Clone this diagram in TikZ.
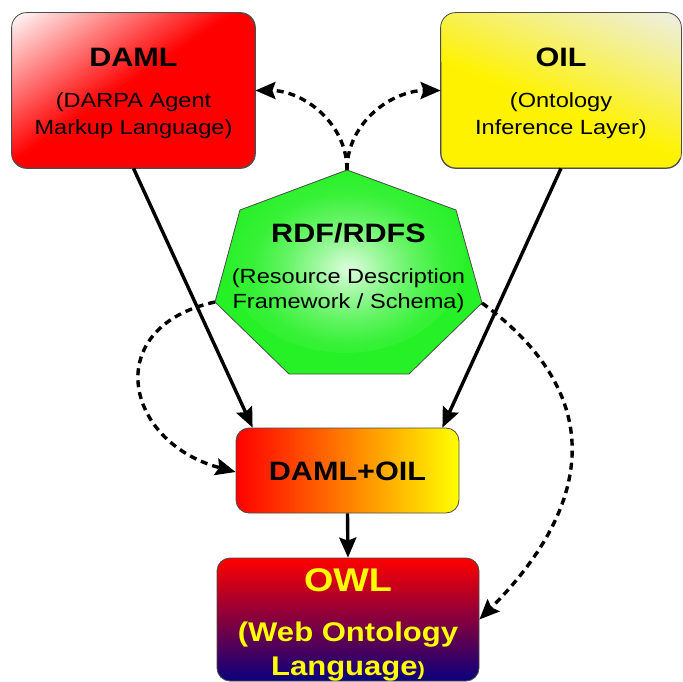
\documentclass[tikz,border=0pt]{standalone}
\usepackage{fontspec}
\setmainfont{Liberation Sans}[FakeStretch=1.15]
\usetikzlibrary{arrows.meta,calc}
\definecolor{hgreen}{RGB}{38,240,38}
\definecolor{navy}{RGB}{10,0,125}
\definecolor{owlyellow}{RGB}{255,255,0}
\definecolor{oilglow}{RGB}{234,238,228}
\pgfdeclareradialshading{rdfglow}{\pgfpointorigin}{color(0bp)=(white!85!hgreen); color(6bp)=(white!55!hgreen); color(12bp)=(white!28!hgreen); color(18bp)=(white!8!hgreen); color(25bp)=(hgreen); color(50bp)=(hgreen)}
\begin{document}
\begin{tikzpicture}[x=1pt,y=1pt,
  boxline/.style={draw=black!70, line width=0.8pt, rounded corners=15pt},
  box/.style={boxline, inner sep=0pt},
  head/.style={font=\fontsize{26.6}{30}\selectfont\bfseries, anchor=base, inner sep=0pt},
  sub/.style={font=\fontsize{20.5}{24}\selectfont, anchor=base, inner sep=0pt},
  owlhead/.style={font=\fontsize{32.8}{36}\selectfont\bfseries, text=owlyellow, anchor=base, inner sep=0pt},
  owlsub/.style={font=\fontsize{27}{30}\selectfont\bfseries, text=owlyellow, anchor=base, inner sep=0pt},
  solidarrow/.style={line width=3.4pt, -{Stealth[length=20pt,width=17pt,inset=3pt]}},
  dasharrow/.style={solidarrow, dash pattern=on 7pt off 5pt}
]
\useasboundingbox (0,0) rectangle (683,-682);

% boxes
\node[box, minimum width=243pt, minimum height=155pt, fill=red] (daml) at (133.5,-90.5) {};
\begin{scope}
  \clip[rounded corners=15pt] (daml.north west) rectangle (daml.south east);
  \begin{scope}[shift={(daml.north west)}, rotate=-56]
    \foreach \i in {0,...,39}{%
      \pgfmathsetmacro{\p}{100*(\i+0.5)/40}%
      \fill[red!\p!white] ({\i*125/40},-400) rectangle ({(\i+1)*125/40+0.6},400);}
  \end{scope}
\end{scope}
\path[boxline] (daml.north west) rectangle (daml.south east);

\node[box, minimum width=240pt, minimum height=155pt, fill=yellow] (oil) at (561,-90.5) {};
\begin{scope}
  \clip[rounded corners=15pt] (oil.north west) rectangle (oil.south east);
  \begin{scope}[shift={(oil.north east)}, rotate=-112]
    \foreach \i in {0,...,39}{%
      \pgfmathsetmacro{\p}{100*(\i+0.5)/40}%
      \fill[yellow!\p!oilglow] ({\i*135/40},-400) rectangle ({(\i+1)*135/40+0.6},400);}
  \end{scope}
\end{scope}
\path[boxline] (oil.north west) rectangle (oil.south east);

\node[box, rounded corners=13pt, minimum width=223pt, minimum height=85pt,
  left color=red, right color=yellow] (dlo) at (347.5,-470.5) {};
\node[box, rounded corners=13pt, minimum width=262pt, minimum height=123pt,
  top color=red, bottom color=navy] (owl) at (348,-619.5) {};

% heptagon
\coordinate (h1) at (347,-170);
\coordinate (h2) at (456,-210);
\coordinate (h3) at (482,-303);
\coordinate (h4) at (409,-374);
\coordinate (h5) at (289,-374);
\coordinate (h6) at (215,-302);
\coordinate (h7) at (240,-210);
\path[draw=black!70, line width=0.8pt, fill=hgreen,
  path picture={\shade[shading=rdfglow]
    (345,-258) ellipse (120pt and 95pt);}]
  (h1) -- (h2) -- (h3) -- (h4) -- (h5) -- (h6) -- (h7) -- cycle;

% connectors
\draw[solidarrow] (daml.south) -- ($(dlo.north west)+(17,0)$);
\draw[solidarrow] (oil.south) -- ($(dlo.north east)+(-17,0)$);
\draw[solidarrow] (dlo.south) -- (owl.north);
\draw[dasharrow] (h1) to[out=90,in=0] (daml.east);
\draw[dasharrow] (h1) to[out=90,in=180] (oil.west);
\draw[dasharrow] (h6) .. controls +(-115,-25) and +(-112,30) .. ($(dlo.west)+(0,-1.5)$);
\draw[dasharrow] (h3) .. controls +(130,-95) and +(110,110) .. (owl.east);

% texts
\node[head] (damlT) at (133.5,-67) {DAML};
\node[sub] (damlS1) at (133.5,-108) {(DARPA Agent};
\node[sub] (damlS2) at (133.5,-135) {Markup Language)};
\node[head] (oilT) at (561,-67) {OIL};
\node[sub] (oilS1) at (561,-108) {(Ontology};
\node[sub] (oilS2) at (561,-135) {Inference Layer)};
\node[head] (rdfT) at (348.5,-242) {RDF/RDFS};
\node[sub] (rdfS1) at (348.5,-283) {(Resource Description};
\node[sub] (rdfS2) at (348.5,-308) {Framework / Schema)};
\node[head] (dloT) at (347.5,-480) {DAML+OIL};
\node[owlhead] (owlT) at (348,-591) {OWL};
\node[owlsub] (owlS1) at (348,-641) {(Web Ontology};
\node[owlsub] (owlS2) at (348,-675) {Language{\fontsize{19}{20}\selectfont)}};
\end{tikzpicture}
\end{document}
